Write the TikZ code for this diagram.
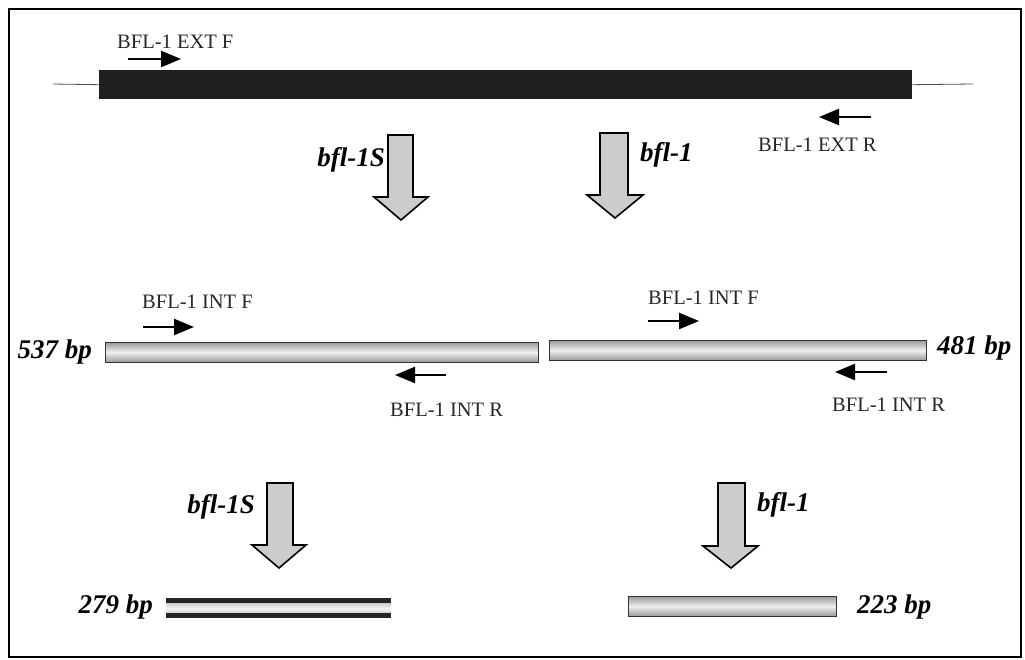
\documentclass[tikz,border=0pt]{standalone}
\usepackage{fontspec}
\setmainfont{Liberation Serif}
\usetikzlibrary{arrows.meta}
\begin{document}
\begin{tikzpicture}[x=1pt,y=-1pt,
  lbl/.style={font=\fontsize{20.5}{22}\selectfont, text=black!85, inner sep=0pt},
  gene/.style={font=\fontsize{27}{29}\selectfont\bfseries\itshape, inner sep=0pt},
  primer/.style={line width=2.4pt, -{Triangle[length=20pt,width=16pt]}},
  bigarrow/.style={draw=black, line width=1.6pt, fill=gray!40, line join=miter},
  pcr/.style={top color=gray!80, bottom color=gray!80, middle color=gray!12, draw=gray!40!black, line width=0.6pt, inner sep=0pt},
  darkbar/.style={fill=black!85, inner sep=0pt}]
\useasboundingbox (0,0) rectangle (1025,659);
\draw[line width=1.6pt] (9,9) rectangle (1021,657);

% genomic template
\node[fill=black!88, minimum width=813pt, minimum height=29pt, inner sep=0pt, anchor=north west] (gen) at (99,70) {};
\coordinate (genL) at (53,84);
\coordinate (genR) at (973,84);
\draw[line width=0.8pt, black!70] (genL) -- (gen.west);
\draw[line width=0.8pt, black!70] (gen.east) -- (genR);

% external primers
\coordinate (extFa) at (128,59);
\coordinate (extFb) at (181,59);
\draw[primer] (extFa) -- (extFb);
\node[lbl, anchor=west] (extFl) at (117,42) {BFL-1 EXT F};
\coordinate (extRa) at (871,117);
\coordinate (extRb) at (819,117);
\draw[primer] (extRa) -- (extRb);
\node[lbl, anchor=west] (extRl) at (758,145) {BFL-1 EXT R};

% first-round big arrows
\draw[bigarrow] (388,135) -- (413,135) -- (413,197) -- (428,197) -- (401,220) -- (374,197) -- (388,197) -- cycle;
\node[gene, anchor=east] (g1) at (385,160) {bfl-1S};
\draw[bigarrow] (600,133) -- (628,133) -- (628,195) -- (643,195) -- (615,218) -- (587,195) -- (600,195) -- cycle;
\node[gene, anchor=west] (g2) at (640,155) {bfl-1};

% first-round products
\node[pcr, minimum width=433pt, minimum height=20pt, anchor=north west] (p537) at (105,342) {};
\node[pcr, minimum width=377pt, minimum height=20pt, anchor=north west] (p481) at (549,340) {};
\node[gene, anchor=east] (l537) at (92,352) {537 bp};
\node[gene, anchor=west] (l481) at (937,348) {481 bp};

% internal primers left
\node[lbl, anchor=west] (intF1l) at (142,302) {BFL-1 INT F};
\coordinate (intF1a) at (143,327);
\coordinate (intF1b) at (194,327);
\draw[primer] (intF1a) -- (intF1b);
\coordinate (intR1a) at (446,375);
\coordinate (intR1b) at (395,375);
\draw[primer] (intR1a) -- (intR1b);
\node[lbl, anchor=west] (intR1l) at (390,410) {BFL-1 INT R};

% internal primers right
\node[lbl, anchor=west] (intF2l) at (648,298) {BFL-1 INT F};
\coordinate (intF2a) at (648,321);
\coordinate (intF2b) at (699,321);
\draw[primer] (intF2a) -- (intF2b);
\coordinate (intR2a) at (887,372);
\coordinate (intR2b) at (835,372);
\draw[primer] (intR2a) -- (intR2b);
\node[lbl, anchor=west] (intR2l) at (832,405) {BFL-1 INT R};

% second-round big arrows
\draw[bigarrow] (267,483) -- (293,483) -- (293,545) -- (306,545) -- (279,568) -- (252,545) -- (267,545) -- cycle;
\node[gene, anchor=east] (g3) at (255,507) {bfl-1S};
\draw[bigarrow] (718,483) -- (745,483) -- (745,546) -- (758,546) -- (731,568) -- (703,546) -- (718,546) -- cycle;
\node[gene, anchor=west] (g4) at (757,505) {bfl-1};

% second-round products
\node[darkbar, minimum width=225pt, minimum height=20pt, anchor=north west] (p279) at (166,598) {};
\node[top color=gray!35, bottom color=gray!35, middle color=gray!5, minimum width=225pt, minimum height=9pt, inner sep=0pt] at (p279.center) {};
\node[pcr, minimum width=208pt, minimum height=20pt, anchor=north west] (p223) at (628,596) {};
\node[gene, anchor=east] (l279) at (153,607) {279 bp};
\node[gene, anchor=west] (l223) at (857,607) {223 bp};
\end{tikzpicture}
\end{document}
